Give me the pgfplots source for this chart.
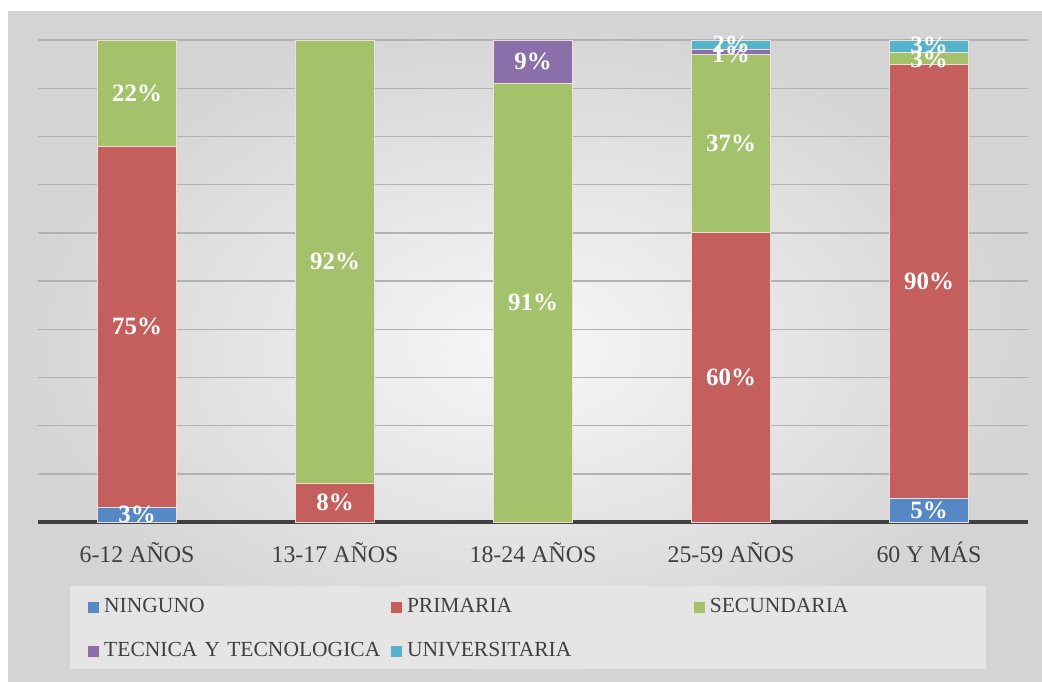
\documentclass[border=0pt]{standalone}
\usepackage{pgfplots}
\pgfplotsset{compat=1.18}
\usepackage{fontspec}
\setmainfont{Liberation Serif}
\definecolor{cNin}{HTML}{5588C4}
\definecolor{cPri}{HTML}{C55F5D}
\definecolor{cSec}{HTML}{A4C16B}
\definecolor{cTec}{HTML}{8A6FAA}
\definecolor{cUni}{HTML}{55B3CC}
\definecolor{txt}{HTML}{404040}
\definecolor{edge}{HTML}{F0DDD5}
\begin{document}
\begin{tikzpicture}[x=1bp,y=1bp]
\useasboundingbox (-19,-79.5) rectangle (502,261);
\fill[white] (-19,-79.5) rectangle (502,261);
\shade[inner color=black!3, outer color=black!17] (-15,-79.5) rectangle (502,255.5);
\fill[black!10] (16,-32) rectangle (474,-73.5);
\begin{axis}[
  at={(0,0)}, anchor=south west, scale only axis,
  width=495bp, height=241bp,
  xmin=-0.5, xmax=4.5, ymin=0, ymax=100,
  ybar stacked, bar width=39.5bp,
  axis x line*=bottom, axis y line*=left,
  y axis line style={draw=none},
  x axis line style={line width=1.75bp, color=txt},
  xtick={0,1,2,3,4},
  xticklabels={6-12 AÑOS, 13-17 AÑOS, 18-24 AÑOS, 25-59 AÑOS, 60 Y MÁS},
  xtick style={draw=none}, ytick style={draw=none},
  ytick={0,10,...,100}, yticklabels={},
  ymajorgrids, grid style={color=black!30, line width=0.7bp},
  xticklabel style={anchor=base, yshift=-20bp, font=\fontsize{12}{14}\selectfont, text=txt},
  legend columns=3,
  legend cell align=left,
  legend image code/.code={\fill[#1] (0bp,-3bp) rectangle (6bp,3bp);},
  legend style={at={(0.0495,-0.1473)}, anchor=north west,
    fill=none, draw=none, inner sep=0pt,
    font=\fontsize{10.8}{12}\selectfont, text=txt,
    nodes={text width=141.5bp, text height=8bp, text depth=2.5bp, inner sep=1.5bp},
    /tikz/every odd column/.append style={column sep=0.5bp},
    row sep=8.5bp},
]
\addplot[fill=cNin, draw=edge, line width=0.4bp] coordinates {(0,3) (1,0) (2,0) (3,0) (4,5)};
\addplot[fill=cPri, draw=edge, line width=0.4bp] coordinates {(0,75) (1,8) (2,0) (3,60) (4,90)};
\addplot[fill=cSec, draw=edge, line width=0.4bp] coordinates {(0,22) (1,92) (2,91) (3,37) (4,2.5)};
\addplot[fill=cTec, draw=edge, line width=0.4bp] coordinates {(0,0) (1,0) (2,9) (3,1) (4,0)};
\addplot[fill=cUni, draw=edge, line width=0.4bp] coordinates {(0,0) (1,0) (2,0) (3,2) (4,2.5)};
\legend{NINGUNO, PRIMARIA, SECUNDARIA, TECNICA Y TECNOLOGICA, UNIVERSITARIA}
\end{axis}
\begin{axis}[
  at={(0,0)}, anchor=south west, scale only axis,
  width=495bp, height=241bp,
  xmin=-0.5, xmax=4.5, ymin=0, ymax=100,
  hide axis, clip=false,
]
\addplot[draw=none, mark=none, nodes near coords, point meta=explicit symbolic,
  nodes near coords style={anchor=center, text=white, font=\bfseries\fontsize{12.5}{14}\selectfont}]
  coordinates {
  (0,1.5) [3\%] (0,40.5) [75\%] (0,89) [22\%]
  (1,4) [8\%] (1,54) [92\%]
  (2,45.5) [91\%] (2,95.5) [9\%]
  (3,30) [60\%] (3,78.5) [37\%] (3,97) [1\%] (3,99) [2\%]
  (4,2.5) [5\%] (4,50) [90\%] (4,96) [3\%] (4,98.8) [3\%]
  };
\end{axis}
\end{tikzpicture}
\end{document}
